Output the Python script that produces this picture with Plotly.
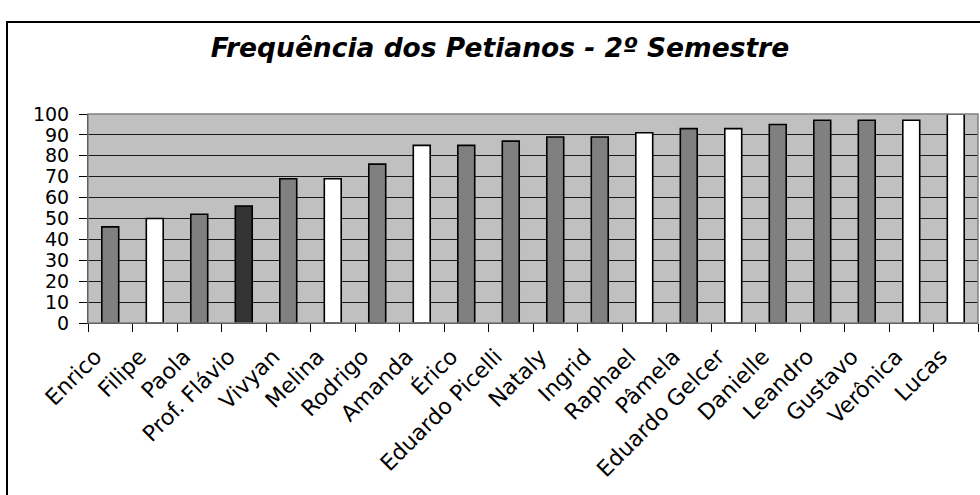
import plotly.graph_objects as go

names = ["Enrico", "Filipe", "Paola", "Prof. Flávio", "Vivyan", "Melina", "Rodrigo",
         "Amanda", "Érico", "Eduardo Picelli", "Nataly", "Ingrid", "Raphael", "Pâmela",
         "Eduardo Gelcer", "Danielle", "Leandro", "Gustavo", "Verônica", "Lucas"]
frequencia = [46, 50, 52, 56, 69, 69, 76, 85, 85, 87, 89, 89, 91, 93, 93, 95, 97, 97, 97, 100]
grupo = ["g", "w", "g", "d", "g", "w", "g", "w", "g", "g", "g", "g", "w", "g", "w",
         "g", "g", "g", "w", "w"]
palette = {"g": "#808080", "w": "#FFFFFF", "d": "#333333"}
colors = [palette[c] for c in grupo]

fig = go.Figure()
fig.add_trace(go.Bar(
    x=names, y=frequencia,
    marker=dict(color=colors, line=dict(color="#000000", width=1.6)),
    width=0.38,
))

W, H = 980, 495
L, R, T, B = 88, 2, 114, 172
pw, ph = W - L - R, H - T - B

def px2paper_x(px):
    return (px - L) / pw

def px2paper_y(py):
    return (H - B - py) / ph

fig.update_layout(
    width=W, height=H,
    margin=dict(l=L, r=R, t=T, b=B, pad=0, autoexpand=False),
    paper_bgcolor="white",
    plot_bgcolor="#C0C0C0",
    showlegend=False,
    font=dict(family="DejaVu Sans", color="black"),
    title=dict(text="<i><b>Frequência dos Petianos - 2º Semestre</b></i>",
               x=500 / W, xanchor="center", xref="container",
               y=1 - 48 / H, yanchor="middle", yref="container",
               font=dict(family="DejaVu Sans", size=26.5, color="black")),
    xaxis=dict(
        type="category", tickson="boundaries", ticks="outside", ticklen=8,
        tickcolor="black", tickangle=-45, tickfont=dict(size=22),
        ticklabelshift=-15, ticklabelstandoff=11,
        showline=True, linecolor="black", linewidth=1, showgrid=False,
        automargin=False,
    ),
    yaxis=dict(
        range=[0, 100], dtick=10, ticks="outside", ticklen=8, tickcolor="black",
        tickfont=dict(size=19), ticklabelstandoff=6,
        showline=True, linecolor="black", linewidth=1,
        showgrid=True, gridcolor="#1a1a1a", gridwidth=1, zeroline=False,
        fixedrange=True, automargin=False,
    ),
    shapes=[
        dict(type="rect", xref="paper", yref="paper",
             x0=0, x1=1, y0=0, y1=1, line=dict(color="#808080", width=1.5),
             fillcolor="rgba(0,0,0,0)", layer="above"),
        dict(type="rect", xref="paper", yref="paper",
             x0=px2paper_x(7), x1=px2paper_x(990), y0=px2paper_y(22), y1=px2paper_y(510),
             line=dict(color="black", width=2), fillcolor="rgba(0,0,0,0)"),
    ],
)

fig.write_html("out.html", config={"displayModeBar": False},
               post_script="document.body.style.margin='0';")
